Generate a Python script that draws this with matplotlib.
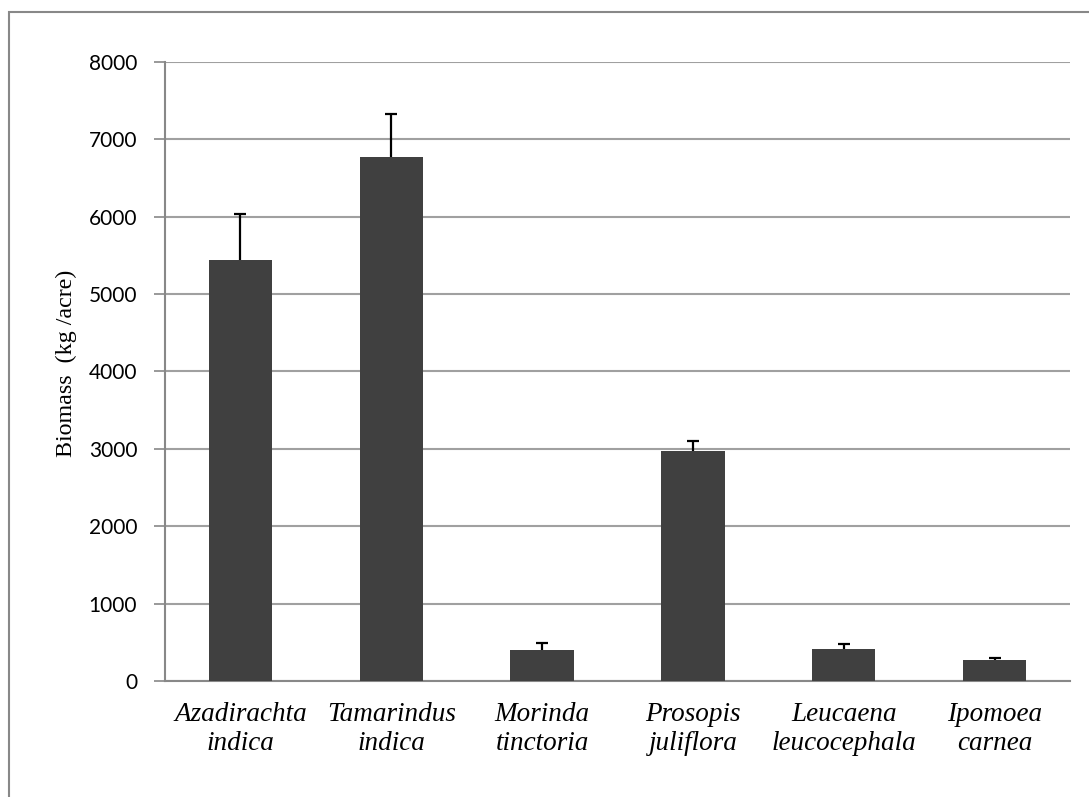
import matplotlib
matplotlib.use("Agg")
import matplotlib.pyplot as plt
from matplotlib.patches import Rectangle

species = ["Azadirachta\nindica", "Tamarindus\nindica", "Morinda\ntinctoria",
           "Prosopis\njuliflora", "Leucaena\nleucocephala", "Ipomoea\ncarnea"]
biomass = [5440, 6770, 395, 2970, 410, 265]
error_up = [600, 560, 90, 135, 72, 32]
yticks = [0, 1000, 2000, 3000, 4000, 5000, 6000, 7000, 8000]

fig = plt.figure(figsize=(10.89, 7.97), dpi=100)
ax = fig.add_axes([0.1515, 0.1456, 0.9826 - 0.1515, 0.9222 - 0.1456])

x = list(range(len(species)))
ax.bar(x, biomass, width=0.42, color="#404040", zorder=3)

# upper-only error bars with a cap at the top end
_, caps, _ = ax.errorbar(x, biomass, yerr=[[0] * len(error_up), error_up],
                         fmt="none", ecolor="black", elinewidth=1.6,
                         capsize=4.5, capthick=1.6, zorder=4)
caps[0].set_visible(False)

ax.set_xlim(-0.5, len(species) - 0.5)
ax.set_ylim(0, 8000)
ax.set_yticks(yticks)
ax.set_yticklabels([str(t) for t in yticks], fontfamily="Lato", fontsize=15)
ax.yaxis.grid(True, color="#a0a0a0", linewidth=1.5, zorder=0)
ax.set_axisbelow(True)

ax.set_xticks(x)
ax.set_xticklabels(species, fontfamily="Liberation Serif", fontstyle="italic",
                   fontsize=19.5, linespacing=1.22)
ax.tick_params(axis="x", length=0, pad=15)
ax.tick_params(axis="y", length=8, width=1.2, color="#888888", pad=12)

for side in ("top", "right"):
    ax.spines[side].set_visible(False)
for side in ("left", "bottom"):
    ax.spines[side].set_color("#888888")
    ax.spines[side].set_linewidth(1.5)

fig.text(66 / 1089, 1 - 363 / 797, "Biomass  (kg /acre)", rotation=90,
         ha="center", va="center", fontfamily="Liberation Serif", fontsize=17.3)

# outer chart frame
fig.patches.append(Rectangle((9 / 1089, -0.05), 1.1, 1 - 12 / 797 + 0.05,
                             transform=fig.transFigure, fill=False,
                             edgecolor="#888888", linewidth=1.5, zorder=0))

fig.savefig("out.png", dpi=100)
